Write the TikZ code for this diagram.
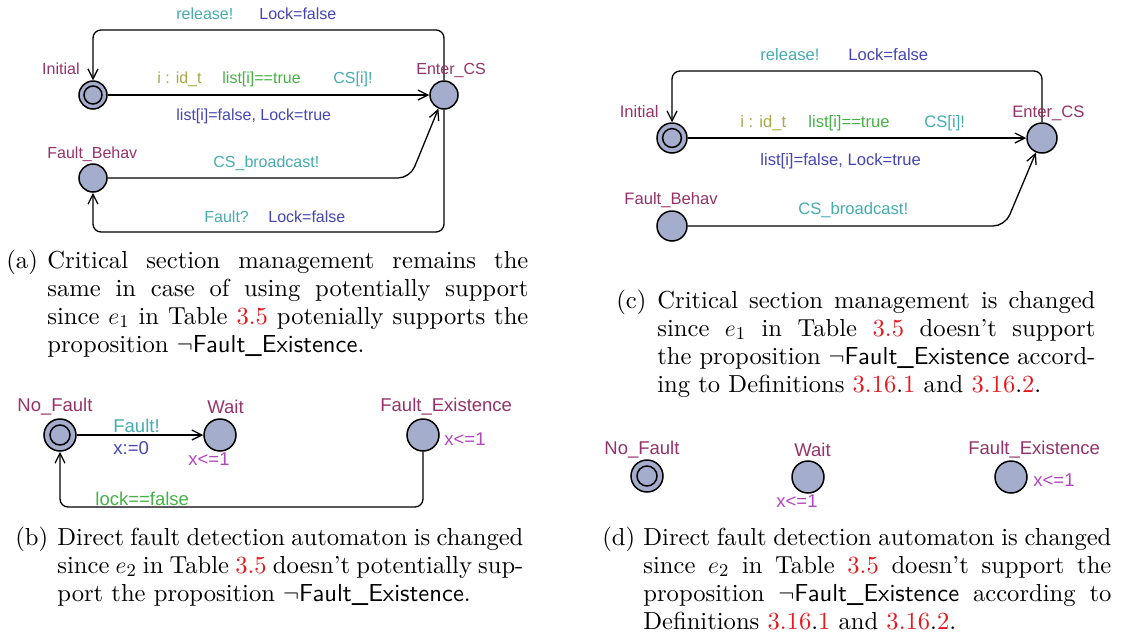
\documentclass[tikz,border=0pt]{standalone}
\usepackage{fontspec}
\setmainfont{lmroman10-regular.otf}[ItalicFont=lmroman10-italic.otf,
  BoldFont=lmroman10-bold.otf]
\setsansfont{lmsans10-regular.otf}[BoldFont=lmsans10-bold.otf]
\newfontfamily\uppaalfont{Liberation Sans}
\usetikzlibrary{arrows.meta}

\definecolor{locname}{RGB}{150,50,105}
\definecolor{synccol}{RGB}{70,172,175}
\definecolor{updcol}{RGB}{70,70,180}
\definecolor{guardcol}{RGB}{70,178,70}
\definecolor{selcol}{RGB}{168,168,70}
\definecolor{invcol}{RGB}{178,70,190}
\definecolor{locfill}{RGB}{165,173,205}
\definecolor{refred}{RGB}{230,25,30}

\newcommand\capfont{\fontsize{12.3}{14}\selectfont}
\newcommand\tref[1]{\textcolor{refred}{#1}}
\newcommand\fe{$\neg$\textsf{Fault\_Existence}}

\tikzset{
  lbl/.style={inner sep=0pt, anchor=mid west, yshift=-0.8pt},
  nm/.style={lbl, text=locname},
  nmr/.style={inner sep=0pt, anchor=mid east, yshift=-0.8pt, text=locname},
  sync/.style={lbl, text=synccol},
  upd/.style={lbl, text=updcol},
  grd/.style={lbl, text=guardcol},
  sel/.style={lbl, text=selcol},
  inv/.style={lbl, text=invcol},
  loc/.style={circle, draw=black, fill=locfill, line width=0.75pt,
    minimum size=#1, inner sep=0pt},
  initloc/.style 2 args={loc=#1,
    path picture={\draw[line width=0.75pt] (path picture bounding box.center) circle (#2);}},
  edge/.style={draw=black, line width=0.65pt,
    -{Straight Barb[length=5pt,width=5pt,line width=0.65pt]}},
  capline/.style={anchor=base west, inner sep=0pt, font=\capfont},
}

\begin{document}
\begin{tikzpicture}[x=0.5pt, y=-0.5pt]
\useasboundingbox[fill=white] (0,0) rectangle (1121,638);

% ---------------- (a) critical section, potentially supported
\begin{scope}[every node/.append style={font=\uppaalfont\fontsize{8}{9.6}\selectfont}]
  \node[initloc={14pt}{4.5pt}] (a-ini) at (93,95) {};
  \node[loc=14pt] (a-ecs) at (444,95) {};
  \node[loc=14pt] (a-fb) at (93,178) {};
  \coordinate (a-tr) at (444,30);
  \coordinate (a-tl) at (93,30);
  \coordinate (a-br) at (444,232);
  \coordinate (a-bl) at (93,232);
  \coordinate (a-bend) at (410,178);

  \draw[edge] (a-ini) -- (a-ecs);
  \draw[edge, rounded corners=4pt] (a-ecs) -- (a-tr) -- (a-tl) -- (a-ini);
  \draw[edge, rounded corners=4pt] (a-ecs) -- (a-br) -- (a-bl) -- (a-fb);
  \draw[edge, rounded corners=6pt] (a-fb) -- (a-bend) -- (a-ecs);

  \node[sync] (a-l1) at (176,14) {release!};
  \node[upd] (a-l2) at (259,14) {Lock=false};
  \node[nmr] (a-n1) at (80,69) {Initial};
  \node[nm] (a-n2) at (416,69) {Enter\_CS};
  \node[sel] (a-l3) at (157,78) {i : id\_t};
  \node[grd] (a-l4) at (222,78) {list[i]==true};
  \node[sync] (a-l5) at (333,78) {CS[i]!};
  \node[upd] (a-l6) at (176,115) {list[i]=false, Lock=true};
  \node[nm] (a-n3) at (47,153) {Fault\_Behav};
  \node[sync] (a-l7) at (213,162) {CS\_broadcast!};
  \node[sync] (a-l8) at (204,217) {Fault?};
  \node[upd] (a-l9) at (268,217) {Lock=false};
\end{scope}

% ---------------- (c) critical section, not supported
\begin{scope}[every node/.append style={font=\uppaalfont\fontsize{8.3}{10}\selectfont}]
  \node[initloc={15pt}{4.7pt}] (c-ini) at (672,138) {};
  \node[loc=15pt] (c-ecs) at (1042,138) {};
  \node[loc=15pt] (c-fb) at (672,226) {};
  \coordinate (c-tr) at (1042,71);
  \coordinate (c-tl) at (672,71);
  \coordinate (c-bend) at (1005,226);

  \draw[edge] (c-ini) -- (c-ecs);
  \draw[edge, rounded corners=4pt] (c-ecs) -- (c-tr) -- (c-tl) -- (c-ini);
  \draw[edge, rounded corners=6pt] (c-fb) -- (c-bend) -- (c-ecs);

  \node[sync] (c-l1) at (760,55) {release!};
  \node[upd] (c-l2) at (848,55) {Lock=false};
  \node[nmr] (c-n1) at (659,112) {Initial};
  \node[nm] (c-n2) at (1012,112) {Enter\_CS};
  \node[sel] (c-l3) at (740,122) {i : id\_t};
  \node[grd] (c-l4) at (808,122) {list[i]==true};
  \node[sync] (c-l5) at (924,122) {CS[i]!};
  \node[upd] (c-l6) at (760,160) {list[i]=false, Lock=true};
  \node[nm] (c-n3) at (624,199) {Fault\_Behav};
  \node[sync] (c-l7) at (798,209) {CS\_broadcast!};
\end{scope}

% ---------------- (b) direct fault detection, potentially supported
\begin{scope}[every node/.append style={font=\uppaalfont\fontsize{9.25}{11}\selectfont}]
  \node[initloc={16pt}{5pt}] (b-nf) at (60,435) {};
  \node[loc=16pt] (b-wait) at (220,435) {};
  \node[loc=16pt] (b-fe) at (423,435) {};
  \coordinate (b-br) at (423,507);
  \coordinate (b-bl) at (60,507);

  \draw[edge] (b-nf) -- (b-wait);
  \draw[edge, rounded corners=4pt] (b-fe) -- (b-br) -- (b-bl) -- (b-nf);

  \node[nm] (b-n1) at (17,406) {No\_Fault};
  \node[nm] (b-n2) at (207,408) {Wait};
  \node[nm] (b-n3) at (380,406) {Fault\_Existence};
  \node[sync] (b-l1) at (113,427) {Fault!};
  \node[upd] (b-l2) at (113,449) {x:=0};
  \node[inv] (b-l3) at (188,460) {x<=1};
  \node[inv] (b-l4) at (444,440) {x<=1};
  \node[grd] (b-l5) at (95,500) {lock==false};
\end{scope}

% ---------------- (d) direct fault detection, not supported
\begin{scope}[every node/.append style={font=\uppaalfont\fontsize{9.25}{11}\selectfont}]
  \node[initloc={16pt}{5pt}] (d-nf) at (647,476) {};
  \node[loc=16pt] (d-wait) at (808,477) {};
  \node[loc=16pt] (d-fe) at (1011,477) {};

  \node[nm] (d-n1) at (604,449) {No\_Fault};
  \node[nm] (d-n2) at (794,451) {Wait};
  \node[nm] (d-n3) at (968,449) {Fault\_Existence};
  \node[inv] (d-l1) at (776,502) {x<=1};
  \node[inv] (d-l2) at (1033,481) {x<=1};
\end{scope}

% ---------------- captions
\node[capline] (a-tag) at (6,268) {(a)};
\node[capline] (a-c1) at (47,268) {\makebox[240.5pt][s]{Critical section management remains the}};
\node[capline] (a-c2) at (47,296) {\makebox[240.5pt][s]{same in case of using potentially support}};
\node[capline] (a-c3) at (47,324) {\makebox[240.5pt][s]{since $e_1$ in Table \tref{3.5} potenially supports the}};
\node[capline] (a-c4) at (47,352) {proposition \fe.};

\node[capline] (b-tag) at (15,545) {(b)};
\node[capline] (b-c1) at (57,545) {\makebox[233pt][s]{Direct fault detection automaton is changed}};
\node[capline] (b-c2) at (57,573) {\makebox[233pt][s]{since $e_2$ in Table \tref{3.5} doesn’t potentially sup-}};
\node[capline] (b-c3) at (57,601) {port the proposition \fe.};

\node[capline] (c-tag) at (616,308) {(c)};
\node[capline] (c-c1) at (657,308) {\makebox[219pt][s]{Critical section management is changed}};
\node[capline] (c-c2) at (657,336) {\makebox[219pt][s]{since $e_1$ in Table \tref{3.5} doesn’t support}};
\node[capline] (c-c3) at (657,364) {\makebox[219pt][s]{the proposition \fe{} accord-}};
\node[capline] (c-c4) at (657,392) {ing to Definitions \tref{3.16}.\tref{1} and \tref{3.16}.\tref{2}.};

\node[capline] (d-tag) at (602,545) {(d)};
\node[capline] (d-c1) at (643,545) {\makebox[234pt][s]{Direct fault detection automaton is changed}};
\node[capline] (d-c2) at (643,573) {\makebox[234pt][s]{since $e_2$ in Table \tref{3.5} doesn’t support the}};
\node[capline] (d-c3) at (643,601) {\makebox[234pt][s]{proposition \fe{} according to}};
\node[capline] (d-c4) at (643,629) {Definitions \tref{3.16}.\tref{1} and \tref{3.16}.\tref{2}.};
\end{tikzpicture}
\end{document}
